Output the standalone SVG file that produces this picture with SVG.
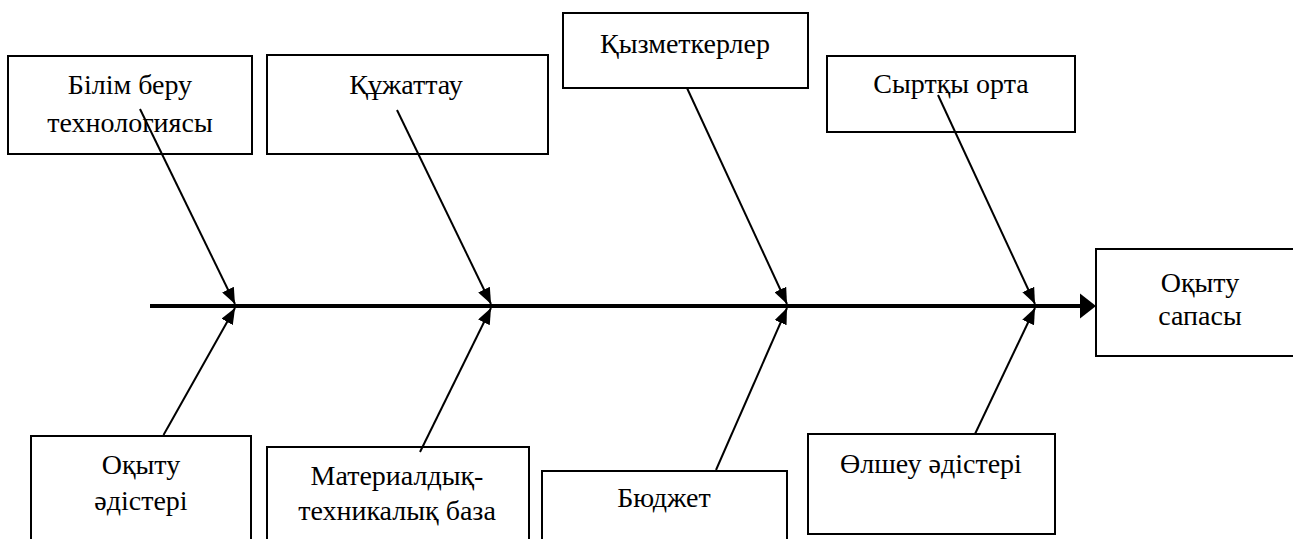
<svg xmlns="http://www.w3.org/2000/svg" width="1293" height="539" viewBox="0 0 1293 539">
<style>
.box{fill:#fff;stroke:#000;stroke-width:2}
.br{stroke:#000;stroke-width:2;fill:none;marker-end:url(#ah)}
.axis{stroke:#000;stroke-width:4;fill:none}
</style>
<defs>
<marker id="ah" markerUnits="userSpaceOnUse" markerWidth="17" markerHeight="13" refX="16" refY="6.5" orient="auto">
<path d="M0,0 L16,6.5 L0,13 z" fill="#000"/>
</marker>
</defs>
<rect width="1293" height="539" fill="#fff"/>
<g font-family="Liberation Serif" font-size="28" text-anchor="middle" fill="#000">
<g id="n-bilim"><rect class="box" x="8" y="56" width="244" height="98"/><text font-family="Liberation Serif" x="130" y="94">Білім беру</text><text font-family="Liberation Serif" x="130" y="132">технологиясы</text></g>
<g id="n-kuzhattau"><rect class="box" x="267" y="55" width="281" height="99"/><text font-family="Liberation Serif" x="406" y="94">Құжаттау</text></g>
<g id="n-kyzmetkerler"><rect class="box" x="563" y="13" width="245" height="75"/><text font-family="Liberation Serif" x="685" y="53">Қызметкерлер</text></g>
<g id="n-syrtky"><rect class="box" x="827" y="56" width="248" height="76"/><text font-family="Liberation Serif" x="951" y="93">Сыртқы орта</text></g>
<g id="n-sapasy"><rect class="box" x="1096" y="249" width="208" height="107"/><text font-family="Liberation Serif" x="1200" y="292">Оқыту</text><text font-family="Liberation Serif" x="1200" y="325">сапасы</text></g>
<g id="n-adisteri"><rect class="box" x="31" y="436" width="220" height="120"/><text font-family="Liberation Serif" x="141" y="474">Оқыту</text><text font-family="Liberation Serif" x="141" y="510">әдістері</text></g>
<g id="n-material"><rect class="box" x="267" y="447" width="262" height="110"/><text font-family="Liberation Serif" x="397" y="485">Материалдық-</text><text font-family="Liberation Serif" x="397" y="520">техникалық база</text></g>
<g id="n-budzhet"><rect class="box" x="542" y="471" width="245" height="90"/><text font-family="Liberation Serif" x="664" y="507">Бюджет</text></g>
<g id="n-olsheu"><rect class="box" x="808" y="434" width="247" height="100"/><text font-family="Liberation Serif" x="931" y="473">Өлшеу әдістері</text></g>
</g>
<g id="connectors">
<line class="axis" x1="150" y1="306" x2="1082" y2="306"/>
<path d="M1080,293.5 L1096,306 L1080,318.5 z" fill="#000"/>
<line class="br" x1="140" y1="109" x2="235" y2="304"/>
<line class="br" x1="397" y1="110" x2="491" y2="304"/>
<line class="br" x1="687" y1="88" x2="787" y2="304"/>
<line class="br" x1="938" y1="95" x2="1035" y2="304"/>
<line class="br" x1="163.5" y1="435" x2="235" y2="308"/>
<line class="br" x1="420" y1="452" x2="491" y2="308"/>
<line class="br" x1="716" y1="470" x2="787" y2="308"/>
<line class="br" x1="975" y1="434" x2="1035" y2="308"/>
</g>
</svg>
